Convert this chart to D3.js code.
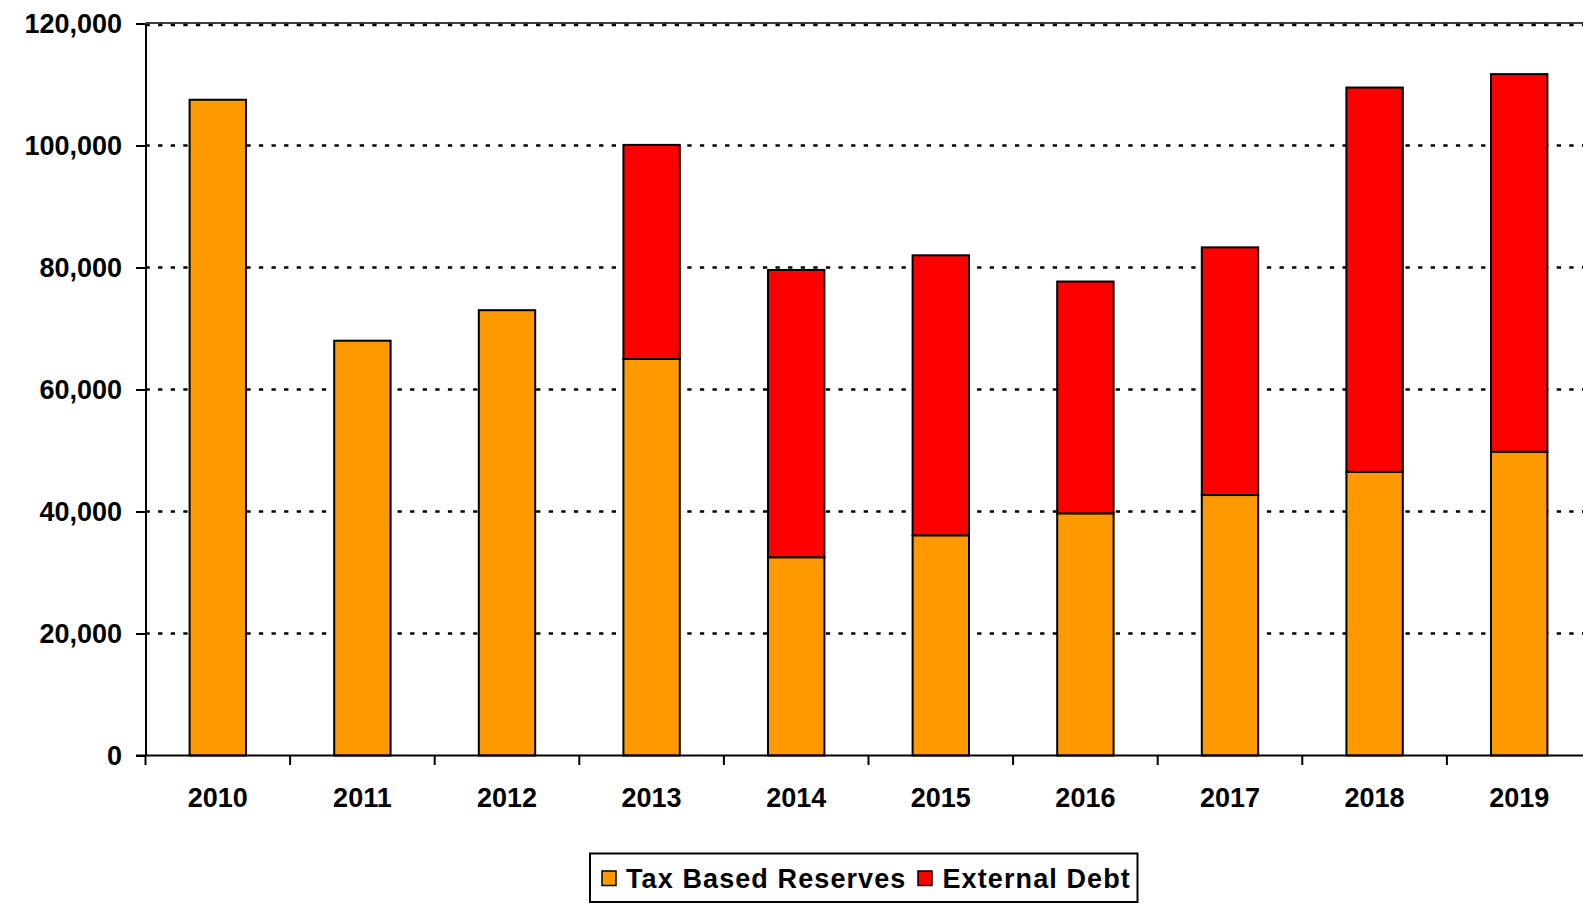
<!DOCTYPE html>
<html>
<head>
<meta charset="utf-8">
<script src="https://cdn.jsdelivr.net/npm/d3@7"></script>
<style>
  html, body { margin: 0; padding: 0; background: #fff; }
  svg { display: block; font-family: "Liberation Sans", Arial, sans-serif; }
</style>
</head>
<body>
<svg id="chart" width="1583" height="908"></svg>
<script>
// Reserves and external debt by year
const years = ["2010", "2011", "2012", "2013", "2014", "2015", "2016", "2017", "2018", "2019"];
const taxBasedReserves = [107500, 68000, 73000, 65000, 32500, 36100, 39700, 42700, 46500, 49800];
const externalDebt     = [0, 0, 0, 35100, 47100, 45900, 38000, 40600, 63000, 61900];
const yTicks = [0, 20000, 40000, 60000, 80000, 100000, 120000];
const seriesNames = ["Tax Based Reserves", "External Debt"];
const seriesColors = ["#FF9900", "#FF0000"];

const svg = d3.select("#chart");

const plotLeft = 145.5, bandStep = 144.6, plotTop = 23.5, plotBottom = 755.5;

const x = d3.scaleBand()
  .domain(years)
  .range([plotLeft, plotLeft + bandStep * years.length])
  .paddingInner(0.61)
  .paddingOuter(0.305);

const y = d3.scaleLinear().domain([0, 120000]).range([plotBottom, plotTop]);

const rows = years.map((yr, i) => ({ year: yr, reserves: taxBasedReserves[i], debt: externalDebt[i] }));
const stack = d3.stack().keys(["reserves", "debt"]);
const layers = stack(rows);

// horizontal dotted gridlines
svg.append("g")
  .selectAll("line")
  .data(yTicks.filter(d => d > 0))
  .join("line")
  .attr("x1", plotLeft)
  .attr("x2", 1583)
  .attr("y1", d => y(d) + (d === 120000 ? 1.5 : 0))
  .attr("y2", d => y(d) + (d === 120000 ? 1.5 : 0))
  .attr("stroke", "#000")
  .attr("stroke-width", 2.7)
  .attr("stroke-dasharray", "4.3,8.3");

// solid top border line
svg.append("line")
  .attr("x1", plotLeft).attr("x2", 1583)
  .attr("y1", y(120000) - 0.5).attr("y2", y(120000) - 0.5)
  .attr("stroke", "#000").attr("stroke-width", 1.5);

// stacked bars
svg.append("g")
  .selectAll("g")
  .data(layers)
  .join("g")
  .attr("fill", (d, i) => seriesColors[i])
  .selectAll("rect")
  .data(d => d.filter(s => s[1] - s[0] > 0))
  .join("rect")
  .attr("x", d => x(d.data.year))
  .attr("width", x.bandwidth())
  .attr("y", d => y(d[1]))
  .attr("height", d => y(d[0]) - y(d[1]))
  .attr("stroke", "#000")
  .attr("stroke-width", 2);

// y axis
const yAxis = svg.append("g")
  .attr("transform", `translate(${plotLeft},0)`)
  .call(d3.axisLeft(y).tickValues(yTicks).tickFormat(d3.format(",")).tickSize(9.5).tickSizeOuter(0).tickPadding(14));
yAxis.select(".domain").attr("stroke-width", 2);
yAxis.selectAll(".tick line").attr("stroke-width", 2);
yAxis.selectAll(".tick text")
  .attr("font-size", 27)
  .attr("font-weight", "bold")
  .attr("fill", "#000")
  .attr("dy", "0.34em");

// x axis baseline
svg.append("line")
  .attr("x1", plotLeft - 9.5).attr("x2", 1583)
  .attr("y1", y(0)).attr("y2", y(0))
  .attr("stroke", "#000").attr("stroke-width", 2);

// category boundary ticks
const gap = (x.step() - x.bandwidth()) / 2;
const boundaries = years.map(d => x(d) - gap).concat([x(years[years.length - 1]) + x.bandwidth() + gap]);
svg.append("g")
  .selectAll("line")
  .data(boundaries)
  .join("line")
  .attr("x1", d => d).attr("x2", d => d)
  .attr("y1", y(0)).attr("y2", y(0) + 9.5)
  .attr("stroke", "#000").attr("stroke-width", 2);

// category labels
const xAxis = svg.append("g")
  .attr("transform", `translate(0,${y(0)})`)
  .call(d3.axisBottom(x).tickSize(0).tickPadding(0));
xAxis.select(".domain").remove();
xAxis.selectAll(".tick text")
  .attr("y", 51)
  .attr("dy", 0)
  .attr("font-size", 27)
  .attr("font-weight", "bold")
  .attr("fill", "#000");

// legend
const legend = svg.append("g");
legend.append("rect")
  .attr("x", 590).attr("y", 853.5)
  .attr("width", 547.5).attr("height", 48.5)
  .attr("fill", "#fff").attr("stroke", "#000").attr("stroke-width", 2);

const legendItems = [
  { name: seriesNames[0], color: seriesColors[0], sx: 602, tx: 626 },
  { name: seriesNames[1], color: seriesColors[1], sx: 918, tx: 942.5 }
];
const li = legend.selectAll("g.item").data(legendItems).join("g").attr("class", "item");
li.append("rect")
  .attr("x", d => d.sx).attr("y", 871)
  .attr("width", 14).attr("height", 14.5)
  .attr("fill", d => d.color)
  .attr("stroke", "#000").attr("stroke-width", 1.5);
li.append("text")
  .attr("x", d => d.tx).attr("y", 888.3)
  .attr("font-size", 27)
  .attr("font-weight", "bold")
  .attr("letter-spacing", 1.1)
  .attr("fill", "#000")
  .text(d => d.name);
</script>
</body>
</html>
